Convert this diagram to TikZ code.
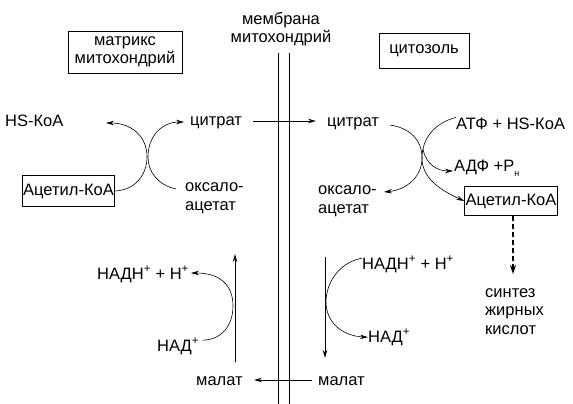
\documentclass[tikz,border=0pt]{standalone}
\usepackage{fontspec}
\setmainfont{Liberation Sans}
\usetikzlibrary{arrows.meta}
\begin{document}
\begin{tikzpicture}[x=1pt,y=-1pt,
  lbl/.style={inner sep=0pt,font=\fontsize{16.5}{18.5}\selectfont,align=left},
  boxed/.style={draw,line width=0.8pt,inner sep=1pt,font=\fontsize{16.5}{18.5}\selectfont,align=center},
  arr/.style={line width=0.6pt,-{Stealth[length=8pt,width=4.5pt]}},
  sarr/.style={line width=0.9pt,-{Stealth[length=8pt,width=4.5pt]}},
  memb/.style={line width=0.9pt}]
\useasboundingbox (0,0) rectangle (573,404);
\fill[white] (0,0) rectangle (573,404);
% membrane
\node[lbl,anchor=base,align=center] (membr) at (281,43) {мембрана\\митохондрий};
\coordinate (m1t) at (278,53); \coordinate (m1b) at (278,404);
\coordinate (m2t) at (289,53); \coordinate (m2b) at (289,404);
\draw[memb] (m1t) -- (m1b);
\draw[memb] (m2t) -- (m2b);
% header boxes
\node[boxed,minimum width=114pt,minimum height=42pt] (matrix) at (125,52) {матрикс\\митохондрий};
\node[boxed,minimum width=90pt,minimum height=35pt] (cyto) at (424,50.5) {цитозоль};
% left cycle
\node[lbl,anchor=base west] (hsL) at (5,126) {HS-КоА};
\node[lbl,anchor=base west] (citL) at (190,125) {цитрат};
\node[lbl,anchor=base west] (oxL) at (185,210) {оксало-\\ацетат};
\node[boxed,minimum width=91pt,minimum height=31pt] (acL) at (68.5,191) {Ацетил-КоА};
\coordinate (hsTip) at (106,123);
\coordinate (citLTip) at (184,122);
\coordinate (oxLStart) at (176,189);
\draw[arr] (acL.east) .. controls (135,190) and (147,175) .. (147,157)
  .. controls (147,135) and (130,123) .. (hsTip);
\draw[arr] (oxLStart) .. controls (158,185) and (148,172) .. (148,157)
  .. controls (148,135) and (163,122) .. (citLTip);
% citrate transport
\coordinate (citTrStart) at (253,121);
\coordinate (citTrTip) at (316,121);
\draw[sarr] (citTrStart) -- (citTrTip);
% right cycle
\node[lbl,anchor=base west] (citR) at (327,126) {цитрат};
\node[lbl,anchor=base west] (atf) at (456,129) {АТФ + HS-КоА};
\node[lbl,anchor=base west] (adf) at (454,171) {АДФ +Р\raisebox{-5pt}{\fontsize{9}{9}\selectfont н}};
\node[lbl,anchor=base west] (oxR) at (318,213) {оксало-\\ацетат};
\node[boxed,minimum width=91pt,minimum height=29pt] (acR) at (511,201) {Ацетил-КоА};
\coordinate (citRStart) at (390,125);
\coordinate (oxRTip) at (384,192);
\coordinate (adfTip) at (453,171);
\coordinate (branch) at (423,149);
\draw[arr] (citRStart) .. controls (410,128) and (422,140) .. (422,158)
  .. controls (422,178) and (405,190) .. (oxRTip);
\draw[arr] (atf.west) ++(0,-6) .. controls (435,123) and (422,138) .. (422,158)
  .. controls (422,178) and (440,190) .. (acR.west);
\draw[arr] (branch) .. controls (426,165) and (438,171) .. (adfTip);
% synthesis
\node[lbl,anchor=base west] (synth) at (485,334) {синтез\\жирных\\кислот};
\coordinate (synTip) at (513,274);
\draw[line width=2pt,dash pattern=on 5pt off 3pt,-{Stealth[length=9pt,width=6pt]}] (acR.south -| synTip) -- (synTip);
% left bottom
\node[lbl,anchor=base west] (nadhL) at (97,279) {НАДН\textsuperscript{+} + Н\textsuperscript{+}};
\node[lbl,anchor=base west] (nadL) at (157,351) {НАД\textsuperscript{+}};
\node[lbl,anchor=base west] (malL) at (196,385) {малат};
\coordinate (upBot) at (235,362);
\coordinate (upTop) at (235,254);
\draw[sarr] (upBot) -- (upTop);
\coordinate (nadhLTip) at (191,273);
\draw[arr] (nadL.east) ++(3,-6) .. controls (222,340) and (233,325) .. (233,306)
  .. controls (233,285) and (220,273) .. (nadhLTip);
% malate transport
\coordinate (malTrStart) at (312,380);
\coordinate (malTrTip) at (254,380);
\draw[sarr] (malTrStart) -- (malTrTip);
% right bottom
\node[lbl,anchor=base west] (malR) at (318,385) {малат};
\node[lbl,anchor=base west] (nadhR) at (362,269) {НАДН\textsuperscript{+} + Н\textsuperscript{+}};
\node[lbl,anchor=base west] (nadR) at (368,342) {НАД\textsuperscript{+}};
\coordinate (downTop) at (325,257);
\coordinate (downBot) at (325,358);
\draw[sarr] (downTop) -- (downBot);
\draw[arr] (nadhR.west) ++(0,-6) .. controls (337,263) and (326,285) .. (326,302)
  .. controls (326,322) and (342,336) .. (nadR.west);
\end{tikzpicture}
\end{document}
